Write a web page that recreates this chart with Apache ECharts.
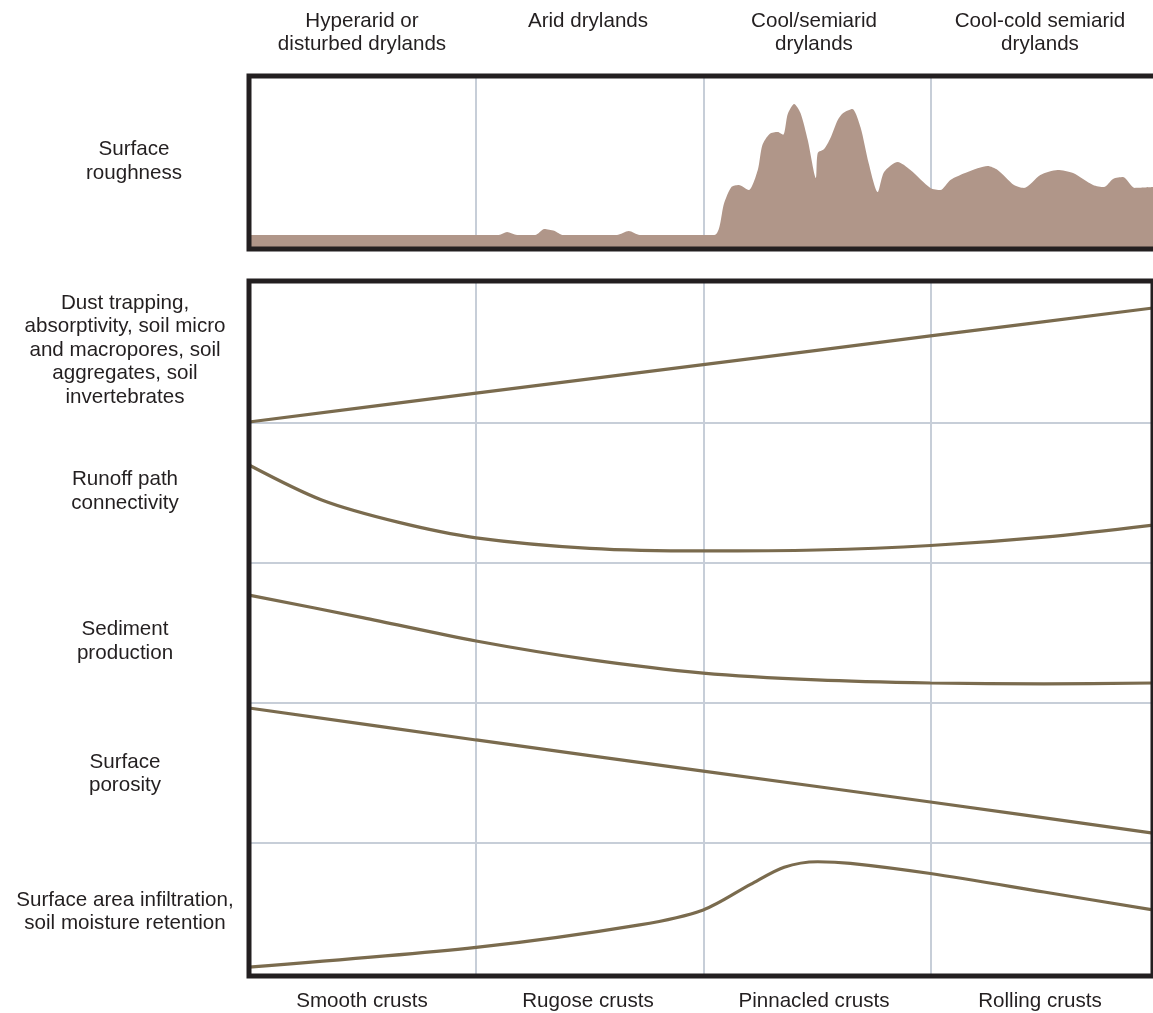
<!DOCTYPE html>
<html>
<head>
<meta charset="utf-8">
<script src="https://cdn.jsdelivr.net/npm/echarts@6/dist/echarts.min.js"></script>
<style>
html,body{margin:0;padding:0;background:#fff;}
#chart{width:1153px;height:1013px;}
</style>
</head>
<body>
<div id="chart"></div>
<script>
// ---- Data (x: position along the crust gradient 0-100; y: relative level 0-100 within each row) ----
const zoneLabels = ['Hyperarid or\ndisturbed drylands', 'Arid drylands', 'Cool/semiarid\ndrylands', 'Cool-cold semiarid\ndrylands'];
const crustLabels = ['Smooth crusts', 'Rugose crusts', 'Pinnacled crusts', 'Rolling crusts'];
const panelLabels = ['Surface\nroughness'];
const rowLabels = [
  'Dust trapping,\nabsorptivity, soil micro\nand macropores, soil\naggregates, soil\ninvertebrates',
  'Runoff path\nconnectivity',
  'Sediment\nproduction',
  'Surface\nporosity',
  'Surface area infiltration,\nsoil moisture retention'
];
const surfaceRoughness = [
  [0, 8.1], [27.5, 8.1], [28.4, 9.8], [29.5, 8.1], [31.5, 8.1], [32.5, 11.6], [33.6, 10.5], [34.5, 8.1],
  [40.5, 8.1], [41.8, 10.4], [43, 8.1], [51.2, 8.1], [52.3, 26.6], [53.1, 35.8], [53.9, 37], [55.0, 34.1],
  [56.0, 45.7], [56.5, 60], [57.3, 66.5], [58.2, 67.6], [58.8, 66], [59.3, 78], [60.0, 83.8], [60.7, 78.6],
  [61.5, 63], [62.4, 41], [62.6, 55.5], [63.3, 57.8], [64.0, 64.2], [64.8, 74.6], [65.4, 78.6], [66.4, 80.9],
  [67.3, 70.5], [68.2, 49.7], [69.2, 32.9], [69.9, 44.5], [71.4, 50.3], [72.8, 45.7], [75.0, 35.3], [76.1, 34.1],
  [77.2, 39.9], [79.1, 44.5], [81.3, 48], [82.4, 45.7], [84.2, 37], [85.3, 35.3], [87.1, 42.8], [89.0, 45.7],
  [90.7, 43.9], [92.9, 37], [94.1, 35.8], [95.1, 40.5], [96.2, 41.6], [97.5, 35.3], [99.5, 35.8]
];
const dustTrapping = [[0, 0.7], [25, 21], [50, 41.1], [75, 61.3], [99.5, 81]];
const runoffConnectivity = [[0, 70], [8, 45], [16.5, 29], [25, 18], [37.5, 10.5], [50, 8.6], [62.5, 9.3], [75, 12.5], [87.5, 18.5], [99.5, 27.1]];
const sedimentProduction = [[0, 77.1], [12.5, 61], [25, 44.3], [37.5, 31], [50, 21.4], [62.5, 16.5], [75, 14.3], [87.5, 13.6], [99.5, 14.3]];
const surfacePorosity = [[0, 96.4], [25, 73.6], [50, 51.4], [75, 29.3], [99.5, 7.1]];
const infiltration = [[0, 5.3], [25, 20.3], [43, 37.5], [50, 48.9], [55.2, 68.4], [58.9, 81.5], [62.6, 85.7], [66.2, 84.5], [75, 76.7], [87.5, 62.6], [99.5, 48.9]];
const rowSeries = [dustTrapping, runoffConnectivity, sedimentProduction, surfacePorosity, infiltration];

// ---- Layout / style ----
const FONT = '"Liberation Sans", Arial, Helvetica, sans-serif';
const FS = 20.6;
const TXT = '#231f20';
const GRIDC = '#c7ced8';
const CURVE = '#7a6b4e';
const AREA = '#b09689';
const L = 249, W = 904, XMAX = 99.5;
const rowsLayout = [[281, 142], [423, 140], [563, 140], [703, 140], [843, 133]];
const labelY = [350, 491.5, 641.5, 774, 912];

const grids = [{left: L, top: 76, width: W, height: 173}];
rowsLayout.forEach(r => grids.push({left: L, top: r[0], width: W, height: r[1]}));

const xAxes = [], yAxes = [];
grids.forEach((g, i) => {
  const isSep = i >= 1 && i <= 4;
  xAxes.push({
    type: 'value', gridIndex: i, min: 0, max: XMAX, interval: 25,
    axisLabel: {show: false}, axisTick: {show: false},
    axisLine: {show: isSep, lineStyle: {color: GRIDC, width: 2}},
    splitLine: {show: true, showMinLine: false, showMaxLine: false, lineStyle: {color: GRIDC, width: 2}}
  });
  yAxes.push({
    type: 'value', gridIndex: i, min: 0, max: 100,
    axisLabel: {show: false}, axisTick: {show: false}, axisLine: {show: false}, splitLine: {show: false}
  });
});
xAxes.push({
  type: 'category', gridIndex: 0, position: 'top', data: zoneLabels,
  axisLine: {show: false}, axisTick: {show: false}, splitLine: {show: false},
  axisLabel: {interval: 0, margin: 66, verticalAlign: 'top', color: TXT, fontFamily: FONT, fontSize: FS, lineHeight: 23}
});
xAxes.push({
  type: 'category', gridIndex: 5, position: 'bottom', data: crustLabels,
  axisLine: {show: false}, axisTick: {show: false}, splitLine: {show: false},
  axisLabel: {interval: 0, margin: 16, color: TXT, fontFamily: FONT, fontSize: FS, lineHeight: 23}
});

const series = [{
  type: 'line', xAxisIndex: 0, yAxisIndex: 0, data: surfaceRoughness,
  smooth: 0.25, showSymbol: false, symbol: 'none',
  lineStyle: {width: 0, color: AREA}, itemStyle: {color: AREA},
  areaStyle: {color: AREA, opacity: 1}, silent: true, z: 2
}];
rowSeries.forEach((d, i) => {
  series.push({
    type: 'line', xAxisIndex: i + 1, yAxisIndex: i + 1, data: d,
    smooth: 0.3, showSymbol: false, symbol: 'none',
    lineStyle: {width: 3.2, color: CURVE}, itemStyle: {color: CURVE}, silent: true, z: 3
  });
});

const graphics = [
  {type: 'rect', z: 100, silent: true, shape: {x: L, y: 76, width: 910, height: 173}, style: {fill: 'none', stroke: TXT, lineWidth: 5}},
  {type: 'rect', z: 100, silent: true, shape: {x: L, y: 281, width: 904, height: 695}, style: {fill: 'none', stroke: TXT, lineWidth: 5}},
  {type: 'text', z: 100, silent: true, x: 134, y: 161.5, style: {text: panelLabels[0], align: 'center', verticalAlign: 'middle', fontFamily: FONT, fontSize: FS, lineHeight: 23.5, fill: TXT}}
];
rowLabels.forEach((t, i) => {
  graphics.push({type: 'text', z: 100, silent: true, x: 125, y: labelY[i],
    style: {text: t, align: 'center', verticalAlign: 'middle', fontFamily: FONT, fontSize: FS, lineHeight: 23.5, fill: TXT}});
});

const chart = echarts.init(document.getElementById('chart'), null, {renderer: 'canvas'});
chart.setOption({
  animation: false,
  backgroundColor: '#ffffff',
  grid: grids,
  xAxis: xAxes,
  yAxis: yAxes,
  series: series,
  graphic: graphics
});
</script>
</body>
</html>
